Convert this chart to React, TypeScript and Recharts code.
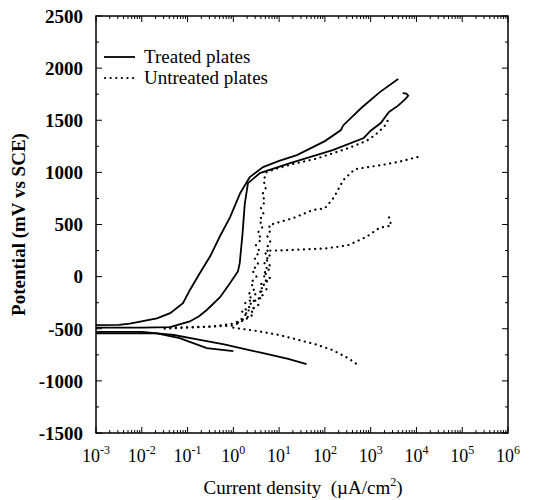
import React from 'react';
import { LineChart, Line, XAxis, YAxis, ReferenceArea, Legend } from 'recharts';

// ---------- data (x: current density µA/cm², y: potential mV vs SCE) ----------
const treatedAnodic1 = [
  { x: 0.001, y: -465 }, { x: 0.00316, y: -462 }, { x: 0.0055, y: -450 }, { x: 0.0214, y: -400 },
  { x: 0.0417, y: -350 }, { x: 0.0794, y: -255 }, { x: 0.112, y: -130 }, { x: 0.178, y: 20 },
  { x: 0.316, y: 200 }, { x: 0.5, y: 380 }, { x: 0.85, y: 571 }, { x: 1.41, y: 800 },
  { x: 2.29, y: 955 }, { x: 4.47, y: 1051 }, { x: 10, y: 1110 }, { x: 24.5, y: 1166 },
  { x: 100, y: 1300 }, { x: 224, y: 1406 }, { x: 251, y: 1450 }, { x: 631, y: 1620 },
  { x: 1585, y: 1770 }, { x: 3981, y: 1895 },
];
const treatedAnodic2 = [
  { x: 0.001, y: -490 }, { x: 0.01, y: -490 }, { x: 0.0417, y: -485 }, { x: 0.112, y: -430 },
  { x: 0.178, y: -380 }, { x: 0.263, y: -320 }, { x: 0.513, y: -197 }, { x: 0.85, y: -62 },
  { x: 1.26, y: 50 }, { x: 1.38, y: 130 }, { x: 1.58, y: 400 }, { x: 1.78, y: 700 },
  { x: 2.09, y: 897 }, { x: 3.8, y: 993 }, { x: 17.4, y: 1089 }, { x: 148, y: 1214 },
  { x: 708, y: 1330 }, { x: 1000, y: 1400 }, { x: 1660, y: 1473 }, { x: 2512, y: 1580 },
  { x: 3981, y: 1640 }, { x: 5623, y: 1700 }, { x: 6607, y: 1735 }, { x: 6026, y: 1755 },
  { x: 5012, y: 1760 },
];
const treatedCathodic1 = [
  { x: 0.001, y: -530 }, { x: 0.01, y: -530 }, { x: 0.05, y: -560 }, { x: 0.2, y: -610 },
  { x: 0.63, y: -650 }, { x: 2.0, y: -700 }, { x: 4.47, y: -734 }, { x: 15.8, y: -790 },
  { x: 39.8, y: -840 },
];
const treatedCathodic2 = [
  { x: 0.001, y: -545 }, { x: 0.0214, y: -545 }, { x: 0.067, y: -590 }, { x: 0.263, y: -686 },
  { x: 1.0, y: -715 },
];
const untreatedA = [
  { x: 0.0316, y: -490 }, { x: 0.1, y: -485 }, { x: 0.316, y: -480 }, { x: 1.0, y: -450 },
  { x: 1.4, y: -420 }, { x: 1.9, y: -360 }, { x: 1.5, y: -330 }, { x: 2.3, y: -300 },
  { x: 1.8, y: -250 }, { x: 2.6, y: -220 }, { x: 2.1, y: -170 }, { x: 2.9, y: -120 },
  { x: 2.4, y: -60 }, { x: 3.2, y: 0 }, { x: 2.6, y: 60 }, { x: 3.5, y: 120 },
  { x: 2.9, y: 180 }, { x: 3.8, y: 240 }, { x: 3.1, y: 300 }, { x: 4.1, y: 360 },
  { x: 3.4, y: 420 }, { x: 4.4, y: 480 }, { x: 3.7, y: 540 }, { x: 4.6, y: 600 },
  { x: 4.0, y: 660 }, { x: 4.9, y: 720 }, { x: 4.3, y: 790 }, { x: 5.1, y: 850 },
  { x: 4.6, y: 920 }, { x: 5.25, y: 1000 }, { x: 7.94, y: 1030 },
  { x: 20, y: 1080 }, { x: 63, y: 1130 }, { x: 316, y: 1230 }, { x: 794, y: 1300 },
  { x: 1259, y: 1360 }, { x: 1995, y: 1440 }, { x: 2512, y: 1520 },
];
const untreatedB = [
  { x: 0.0316, y: -500 }, { x: 1.0, y: -470 }, { x: 2.0, y: -400 }, { x: 2.8, y: -360 },
  { x: 2.4, y: -320 }, { x: 3.55, y: -270 }, { x: 3.0, y: -230 }, { x: 4.6, y: -190 },
  { x: 3.8, y: -150 }, { x: 5.37, y: -120 }, { x: 4.5, y: -70 }, { x: 6.5, y: -20 },
  { x: 5.0, y: 30 }, { x: 6.6, y: 90 }, { x: 5.4, y: 150 }, { x: 6.31, y: 210 },
  { x: 5.2, y: 270 }, { x: 6.5, y: 330 }, { x: 5.5, y: 390 }, { x: 6.6, y: 450 },
  { x: 6.0, y: 490 }, { x: 7.94, y: 510 }, { x: 20, y: 560 }, { x: 55, y: 640 },
  { x: 100, y: 655 }, { x: 158, y: 760 }, { x: 251, y: 925 }, { x: 447, y: 1030 },
  { x: 1995, y: 1075 }, { x: 5012, y: 1110 }, { x: 11220, y: 1150 },
];
const untreatedC = [
  { x: 1.26, y: -440 }, { x: 2.2, y: -380 }, { x: 1.8, y: -340 }, { x: 2.82, y: -300 },
  { x: 2.3, y: -250 }, { x: 3.6, y: -210 }, { x: 3.0, y: -170 }, { x: 4.47, y: -130 },
  { x: 3.8, y: -80 }, { x: 5.4, y: -30 }, { x: 4.4, y: 20 }, { x: 5.62, y: 70 },
  { x: 4.7, y: 120 }, { x: 5.6, y: 180 }, { x: 5.0, y: 220 }, { x: 6.31, y: 250 },
  { x: 8.91, y: 250 }, { x: 31.6, y: 260 },
  { x: 100, y: 270 }, { x: 316, y: 300 }, { x: 794, y: 380 }, { x: 1585, y: 470 },
  { x: 2818, y: 490 }, { x: 2399, y: 600 },
];
const untreatedCathodic = [
  { x: 1.0, y: -490 }, { x: 3.16, y: -520 }, { x: 10, y: -560 }, { x: 28.2, y: -610 },
  { x: 63, y: -650 }, { x: 148, y: -705 }, { x: 316, y: -780 }, { x: 501, y: -840 },
];

const LEGEND_LABELS = ['Treated plates', 'Untreated plates'];
const Y_TITLE = 'Potential (mV vs SCE)';
const X_TITLE = 'Current density';
const X_UNIT = ['(\u00b5A/cm', '2', ')'];
const X_DOMAIN = [1e-3, 1e6];
const Y_DOMAIN = [-1500, 2500];
const X_EXPONENTS = [-3, -2, -1, 0, 1, 2, 3, 4, 5, 6];

// ---------- ticks ----------
const X_TICKS: number[] = [];
X_EXPONENTS.forEach((e) => {
  X_TICKS.push(Math.pow(10, e));
  if (e < 6) for (let m = 2; m <= 9; m++) X_TICKS.push(m * Math.pow(10, e));
});
const Y_TICKS: number[] = [];
for (let v = -1500; v <= 2500; v += 250) Y_TICKS.push(v);

// ---------- layout ----------
const W = 538;
const H = 500;
const PLOT = { left: 96, top: 16, right: 508, bottom: 433 };
const SERIF = "'Liberation Serif', 'Times New Roman', Times, 'DejaVu Serif', serif";
const serifStyle = { fontFamily: SERIF };

const XTick = (props: any) => {
  const { x, payload } = props;
  const v = payload.value;
  const lg = Math.log10(v);
  const major = Math.abs(lg - Math.round(lg)) < 1e-6;
  const len = major ? 6 : 3;
  return (
    <g>
      <line x1={x} x2={x} y1={PLOT.bottom} y2={PLOT.bottom - len} stroke="#000" strokeWidth={1} />
      <line x1={x} x2={x} y1={PLOT.top} y2={PLOT.top + len} stroke="#000" strokeWidth={1} />
      {major && (
        <text x={x} y={PLOT.bottom + 29} textAnchor="middle" style={serifStyle} fontSize={18} fill="#000">
          10
          <tspan dy={-8} fontSize={12}>{Math.round(lg)}</tspan>
        </text>
      )}
    </g>
  );
};

const YTick = (props: any) => {
  const { y, payload } = props;
  const v = payload.value;
  const major = v % 500 === 0;
  const len = major ? 6 : 3;
  return (
    <g>
      <line x1={PLOT.left} x2={PLOT.left + len} y1={y} y2={y} stroke="#000" strokeWidth={1} />
      <line x1={PLOT.right} x2={PLOT.right - len} y1={y} y2={y} stroke="#000" strokeWidth={1} />
      {major && (
        <text x={83} y={y} dy="0.36em" textAnchor="end" style={serifStyle} fontWeight="bold" fontSize={19} fill="#000">
          {v}
        </text>
      )}
    </g>
  );
};

const YTitle = () => (
  <text
    x={18}
    y={(PLOT.top + PLOT.bottom) / 2}
    transform={`rotate(-90, 18, ${(PLOT.top + PLOT.bottom) / 2})`}
    textAnchor="middle"
    dominantBaseline="central"
    style={serifStyle}
    fontWeight="bold"
    fontSize={19}
    fill="#000"
  >
    {Y_TITLE}
  </text>
);

const XTitle = () => (
  <text x={303} y={494} textAnchor="middle" style={{ ...serifStyle, whiteSpace: 'pre' }} fontSize={19} fill="#000">
    {X_TITLE + '\u00a0\u00a0' + X_UNIT[0]}
    <tspan dy={-8} fontSize={12}>{X_UNIT[1]}</tspan>
    <tspan dy={8}>{X_UNIT[2]}</tspan>
  </text>
);

const LegendBox = () => (
  <svg width={200} height={48} style={{ display: 'block' }}>
    <line x1={0} x2={31} y1={13} y2={13} stroke="#000" strokeWidth={1.8} />
    <text x={40} y={19} style={serifStyle} fontSize={19} fill="#000">{LEGEND_LABELS[0]}</text>
    <line x1={1} x2={31} y1={34} y2={34} stroke="#000" strokeWidth={2.2} strokeDasharray="0.1 5.5" strokeLinecap="round" />
    <text x={40} y={40} style={serifStyle} fontSize={19} fill="#000">{LEGEND_LABELS[1]}</text>
  </svg>
);

const solid = { stroke: '#000', strokeWidth: 1.8, dot: false, isAnimationActive: false, type: 'linear' as const };
const dotted = {
  stroke: '#000', strokeWidth: 2.2, dot: false, isAnimationActive: false, type: 'linear' as const,
  strokeDasharray: '0.1 5.5', strokeLinecap: 'round' as const,
};

export default function App() {
  return (
    <div style={{ position: 'absolute', left: 0, top: 0, background: '#fff' }}>
      <LineChart width={W} height={H} margin={{ top: PLOT.top, right: W - PLOT.right, left: 0, bottom: 0 }}>
        <XAxis
          dataKey="x"
          type="number"
          scale="log"
          domain={X_DOMAIN}
          allowDataOverflow
          ticks={X_TICKS}
          interval={0}
          axisLine={false}
          tickLine={false}
          tick={<XTick />}
          height={H - PLOT.bottom}
          label={{ content: () => <XTitle /> }}
        />
        <YAxis
          dataKey="y"
          type="number"
          domain={Y_DOMAIN}
          allowDataOverflow
          ticks={Y_TICKS}
          interval={0}
          axisLine={false}
          tickLine={false}
          tick={<YTick />}
          width={PLOT.left}
          label={{ content: () => <YTitle /> }}
        />
        <ReferenceArea x1={X_DOMAIN[0]} x2={X_DOMAIN[1]} y1={Y_DOMAIN[0]} y2={Y_DOMAIN[1]} fill="none" fillOpacity={0} stroke="#000" strokeWidth={1.5} />
        <Line data={treatedCathodic1} dataKey="y" {...solid} />
        <Line data={treatedCathodic2} dataKey="y" {...solid} />
        <Line data={treatedAnodic1} dataKey="y" {...solid} />
        <Line data={treatedAnodic2} dataKey="y" {...solid} />
        <Line data={untreatedA} dataKey="y" {...dotted} />
        <Line data={untreatedB} dataKey="y" {...dotted} />
        <Line data={untreatedC} dataKey="y" {...dotted} />
        <Line data={untreatedCathodic} dataKey="y" {...dotted} />
        <Legend
          layout="vertical"
          align="center"
          verticalAlign="middle"
          content={() => <LegendBox />}
          wrapperStyle={{ position: 'absolute', left: 104, top: 44, width: 200, height: 48 }}
        />
      </LineChart>
    </div>
  );
}
